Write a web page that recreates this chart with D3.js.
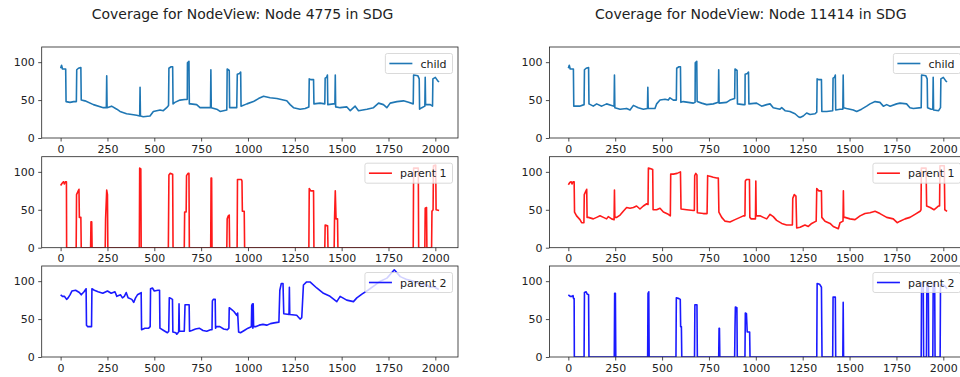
<!DOCTYPE html>
<html>
<head>
<meta charset="utf-8">
<script src="https://cdn.jsdelivr.net/npm/d3@7"></script>
<style>
  body { margin: 0; background: #fff; }
  svg { display: block; font-family: "DejaVu Sans", sans-serif; }
</style>
</head>
<body>
<div id="chart"></div>
<script>
// values: [sample index, coverage]
const childA = [[0,92],[5,96],[10,91],[27,91],[29,48],[50,47],[70,48],[84,48],[86,90],[95,92],[108,93],[110,50],[130,49],[175,44],[228,40],[244,40],[246,82],[248,40],[272,42],[300,38],[317,35],[352,32],[380,31],[406,30],[422,29],[424,67],[426,29],[441,28],[477,29],[495,35],[531,37],[548,36],[566,40],[576,43],[578,92],[590,94],[598,94],[600,45],[610,47],[637,50],[673,51],[676,51],[677,99],[685,101],[687,45],[694,45],[726,44],[744,40],[800,40],[802,90],[804,40],[833,38],[851,35],[887,37],[889,91],[900,89],[902,40],[940,40],[943,84],[955,85],[961,87],[963,42],[994,45],[1029,48],[1056,52],[1083,55],[1118,53],[1154,52],[1189,50],[1207,49],[1225,44],[1243,40],[1278,38],[1305,39],[1325,41],[1327,78],[1335,77],[1350,77],[1352,45],[1385,46],[1410,45],[1412,79],[1420,80],[1424,83],[1426,44],[1456,45],[1464,45],[1466,83],[1468,41],[1492,40],[1528,41],[1546,36],[1572,42],[1590,36],[1635,38],[1670,40],[1697,46],[1723,44],[1741,40],[1759,46],[1795,48],[1830,49],[1857,47],[1882,45],[1884,83],[1907,82],[1914,78],[1916,38],[1928,40],[1944,42],[1946,80],[1948,44],[1973,44],[1985,42],[1987,78],[2000,80],[2014,75],[2020,74]];

const parent1A = [[0,82],[8,85],[15,87],[20,84],[25,87],[31,87],[32,0],[83,0],[85,70],[94,75],[98,77],[100,40],[108,40],[110,0],[160,0],[162,34],[166,34],[168,0],[238,0],[240,38],[246,76],[250,70],[252,0],[420,0],[422,105],[428,104],[430,0],[575,0],[578,96],[585,98],[598,97],[600,0],[660,0],[662,47],[670,47],[672,95],[680,98],[685,98],[687,0],[801,0],[803,92],[806,92],[808,0],[887,0],[889,38],[895,42],[900,43],[902,0],[942,0],[944,90],[965,90],[968,88],[970,48],[980,48],[982,0],[1325,0],[1327,78],[1335,75],[1350,75],[1352,0],[1410,0],[1412,30],[1425,29],[1427,0],[1460,0],[1462,38],[1466,75],[1470,38],[1478,38],[1480,0],[1882,0],[1884,105],[1909,105],[1911,0],[1944,0],[1946,52],[1953,53],[1955,0],[1980,0],[1982,48],[1988,50],[1990,108],[2002,109],[2004,50],[2020,49]];

const parent2A = [[0,82],[10,80],[20,80],[32,76],[40,78],[50,82],[60,87],[80,88],[100,85],[110,82],[125,86],[136,90],[138,42],[145,40],[165,40],[167,90],[180,88],[200,86],[225,84],[250,87],[270,84],[290,86],[300,80],[320,82],[330,78],[340,80],[350,85],[360,78],[380,76],[390,72],[400,78],[410,82],[425,84],[430,85],[432,36],[450,38],[470,38],[478,40],[480,90],[490,91],[500,87],[520,88],[528,88],[530,38],[550,35],[570,32],[577,34],[580,78],[590,77],[597,76],[599,33],[615,32],[620,30],[630,33],[632,70],[634,34],[660,34],[664,69],[686,69],[688,34],[700,35],[720,37],[740,38],[760,35],[780,34],[800,36],[808,36],[810,74],[815,76],[825,76],[827,38],[830,40],[850,40],[870,37],[890,36],[898,38],[900,65],[915,62],[925,60],[940,55],[945,58],[950,33],[960,32],[980,35],[1000,38],[1018,40],[1020,68],[1024,70],[1026,38],[1028,70],[1030,40],[1040,40],[1060,42],[1080,43],[1100,42],[1120,44],[1140,45],[1165,46],[1170,88],[1178,97],[1187,97],[1191,57],[1219,56],[1221,92],[1223,56],[1260,55],[1278,50],[1287,52],[1296,95],[1313,99],[1331,99],[1367,91],[1403,84],[1438,80],[1474,73],[1492,80],[1527,75],[1563,73],[1581,78],[1608,83],[1640,88],[1680,95],[1706,100],[1742,104],[1781,115],[1813,106],[1850,102],[1884,100],[1920,96],[1955,95],[1970,92],[1991,93],[2018,89]];

const childB = [[0,92],[5,96],[10,91],[27,91],[29,42],[60,42],[84,44],[86,90],[95,92],[108,93],[110,45],[133,42],[151,45],[178,42],[204,45],[231,43],[244,42],[246,83],[248,40],[276,38],[311,39],[329,37],[347,43],[373,40],[400,38],[422,39],[424,67],[426,39],[462,39],[471,45],[489,50],[516,51],[533,50],[542,53],[560,50],[576,50],[578,92],[590,94],[598,94],[600,47],[613,48],[667,46],[676,47],[677,99],[685,101],[687,48],[711,46],[738,44],[773,45],[800,47],[802,90],[804,46],[844,47],[862,50],[887,52],[889,91],[900,89],[902,45],[933,44],[942,44],[943,84],[955,85],[961,87],[963,45],[1004,46],[1031,42],[1058,44],[1076,45],[1093,40],[1129,38],[1138,40],[1156,36],[1182,35],[1209,32],[1227,28],[1236,27],[1253,29],[1271,33],[1289,31],[1316,32],[1325,34],[1327,78],[1335,77],[1350,77],[1352,35],[1378,35],[1410,36],[1412,79],[1420,80],[1424,83],[1426,37],[1449,38],[1464,38],[1466,83],[1468,40],[1484,39],[1520,37],[1538,35],[1564,38],[1591,42],[1609,45],[1636,48],[1662,47],[1680,42],[1698,44],[1716,42],[1751,45],[1769,46],[1804,45],[1822,40],[1840,39],[1882,40],[1884,83],[1907,82],[1914,78],[1916,40],[1935,38],[1944,38],[1946,80],[1948,37],[1975,36],[1985,40],[1987,78],[2000,80],[2014,75],[2020,74]];

const parent1B = [[0,83],[8,86],[15,87],[20,84],[25,87],[31,87],[33,47],[44,42],[62,37],[71,33],[83,33],[85,70],[94,75],[98,77],[100,40],[107,40],[133,38],[151,40],[169,42],[187,40],[204,38],[213,41],[231,38],[244,37],[246,76],[248,40],[258,40],[276,43],[293,48],[311,53],[329,52],[347,53],[364,55],[382,51],[400,55],[418,58],[425,57],[427,105],[440,104],[450,103],[452,50],[471,50],[489,52],[507,47],[533,44],[544,42],[546,97],[560,97],[580,98],[598,100],[601,51],[631,50],[667,49],[672,49],[674,95],[680,98],[686,96],[688,46],[720,45],[740,45],[743,95],[760,94],[773,93],[791,92],[800,92],[803,47],[818,40],[836,35],[862,34],[889,37],[916,40],[933,42],[942,42],[944,88],[950,90],[966,90],[968,40],[975,38],[998,38],[1000,88],[1002,42],[1022,42],[1040,40],[1058,38],[1076,44],[1093,41],[1111,36],[1138,32],[1164,30],[1195,30],[1197,65],[1205,70],[1214,68],[1218,26],[1236,27],[1262,30],[1280,28],[1298,32],[1322,35],[1325,78],[1335,75],[1350,75],[1352,40],[1369,35],[1396,32],[1413,28],[1440,25],[1449,33],[1465,35],[1467,75],[1469,40],[1476,40],[1502,38],[1529,37],[1556,42],[1582,45],[1609,46],[1636,48],[1662,45],[1698,40],[1733,38],[1754,33],[1769,35],[1796,38],[1822,40],[1849,44],[1876,48],[1881,50],[1883,105],[1908,105],[1911,55],[1930,53],[1950,50],[1975,55],[1980,55],[1982,108],[2005,108],[2008,50],[2020,48]];

const parent2B = [[0,82],[10,80],[20,80],[25,81],[28,77],[31,77],[32,0],[84,0],[86,85],[95,86],[100,83],[108,82],[110,0],[245,0],[247,84],[251,84],[253,0],[423,0],[425,84],[429,86],[431,0],[574,0],[576,78],[590,77],[597,76],[599,40],[603,40],[605,0],[673,0],[675,69],[686,69],[688,0],[802,0],[804,38],[806,38],[808,0],[887,0],[889,40],[891,66],[899,65],[901,0],[942,0],[944,58],[950,57],[954,33],[967,33],[969,0],[1325,0],[1327,97],[1340,96],[1350,92],[1353,0],[1410,0],[1412,79],[1424,79],[1426,0],[1464,0],[1466,72],[1468,0],[1882,0],[1884,98],[1893,98],[1895,0],[1910,0],[1912,98],[1920,98],[1922,0],[1944,0],[1946,98],[1954,98],[1956,0],[1983,0],[1985,95],[2000,95],[2010,93],[2020,90]];

const titles = ["Coverage for NodeView: Node 4775 in SDG", "Coverage for NodeView: Node 11414 in SDG"];
const seriesNames = ["child", "parent 1", "parent 2"];
const seriesColors = ["#1f77b4", "#ff1a1a", "#1a1aff"];
const xTicks = [0, 250, 500, 750, 1000, 1250, 1500, 1750, 2000];
const yTicks = [0, 50, 100];

const columns = [
    { title: titles[0], titleX: 242.5, titleW: 301.6, left: 41.7, right: 458, data: [childA, parent1A, parent2A] },
    { title: titles[1], titleX: 750.8, titleW: 311.7, left: 549.4, right: 966, data: [childB, parent1B, parent2B] }
];
const rowTops = [47, 156.7, 266];
const rowHeight = 91;
const tickFont = 11;

const svg = d3.select('#chart').append('svg')
    .attr('width', 960)
    .attr('height', 377);

columns.forEach((col, ci) => {
    const title = svg.append('text')
        .attr('x', col.titleX)
        .attr('y', 19)
        .attr('text-anchor', 'middle')
        .attr('font-size', 13)
        .attr('fill', '#222')
        .text(col.title);
    // size the title so it spans the same width as in the picture
    const tw = title.node().getComputedTextLength();
    if (tw > 0) title.attr('font-size', 13 * col.titleW / tw);

    const x = d3.scaleLinear().domain([-101, 2121]).range([col.left, col.right]);

    col.data.forEach((series, ri) => {
        const top = rowTops[ri];
        const y = d3.scaleLinear().domain([0, 120]).range([top + rowHeight, top]);
        const g = svg.append('g');

        g.append('rect')
            .attr('x', col.left).attr('y', top)
            .attr('width', col.right - col.left).attr('height', rowHeight)
            .attr('fill', '#fff');

        const clipId = `clip-${ci}-${ri}`;
        g.append('clipPath').attr('id', clipId)
            .append('rect')
            .attr('x', col.left).attr('y', top)
            .attr('width', col.right - col.left).attr('height', rowHeight);

        const line = d3.line()
            .x(d => x(d[0]))
            .y(d => y(d[1]));

        g.append('path')
            .datum(series)
            .attr('clip-path', `url(#${clipId})`)
            .attr('fill', 'none')
            .attr('stroke', seriesColors[ri])
            .attr('stroke-width', 1.6)
            .attr('stroke-linejoin', 'round')
            .attr('d', line);

        // legend, upper right, drawn over the line with a see-through frame
        const label = g.append('text')
            .attr('font-size', tickFont)
            .attr('fill', '#222')
            .text(seriesNames[ri]);
        const textW = label.node().getComputedTextLength();
        const legW = 35 + textW + 6;
        const legX = col.right - 5.5 - legW;
        const legY = top + 6.5;
        g.insert('rect', 'text')
            .attr('x', legX).attr('y', legY)
            .attr('width', legW).attr('height', 20)
            .attr('rx', 2)
            .attr('fill', '#fff').attr('fill-opacity', 0.8)
            .attr('stroke', '#d0d0d0').attr('stroke-width', 0.8);
        g.append('line')
            .attr('x1', legX + 4).attr('x2', legX + 27)
            .attr('y1', legY + 10).attr('y2', legY + 10)
            .attr('stroke', seriesColors[ri])
            .attr('stroke-width', 1.6);
        label.attr('x', legX + 35).attr('y', legY + 14);
        label.raise();

        // axes
        const xAxis = g.append('g')
            .attr('transform', `translate(0,${top + rowHeight})`)
            .call(d3.axisBottom(x).tickValues(xTicks).tickSize(3.5).tickPadding(3.5).tickFormat(d3.format('d')));
        const yAxis = g.append('g')
            .attr('transform', `translate(${col.left},0)`)
            .call(d3.axisLeft(y).tickValues(yTicks).tickSize(3.5).tickPadding(3.5));
        [xAxis, yAxis].forEach(a => {
            a.select('.domain').remove();
            a.selectAll('text').attr('font-size', tickFont).attr('font-family', 'DejaVu Sans').attr('fill', '#222');
            a.selectAll('line').attr('stroke', '#222').attr('stroke-width', 0.8);
        });

        g.append('rect')
            .attr('x', col.left).attr('y', top)
            .attr('width', col.right - col.left).attr('height', rowHeight)
            .attr('fill', 'none')
            .attr('stroke', '#222')
            .attr('stroke-width', 0.8);
    });
});
</script>
</body>
</html>
